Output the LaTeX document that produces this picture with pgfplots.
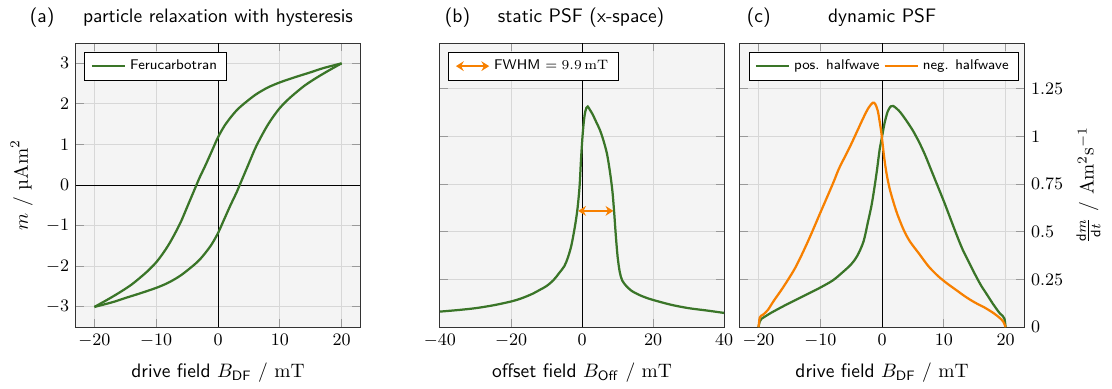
\documentclass[border=0pt]{standalone}
\usepackage{pgfplots}
\pgfplotsset{compat=1.18}
\usetikzlibrary{arrows.meta}
\renewcommand{\familydefault}{\sfdefault}
\definecolor{pgreen}{RGB}{58,117,40}
\definecolor{porange}{RGB}{247,128,0}
\definecolor{bgc}{RGB}{244,244,244}
\definecolor{gridc}{RGB}{215,215,215}
\pgfplotsset{
  myax/.style={
    scale only axis, width=146pt, height=146pt,
    anchor=north west,
    axis background/.style={fill=bgc},
    grid=major, grid style={gridc, line width=0.5pt},
    axis line style={black!80, line width=0.5pt},
    major tick style={black!40, line width=0.5pt},
    tick label style={font=\small},
    label style={font=\normalsize},
    xlabel style={yshift=-1.5pt},
    legend style={font=\fontsize{7.2}{9}\selectfont, at={(0.03,0.97)}, anchor=north west,
      draw=black, line width=0.5pt},
    legend cell align=left,
    extra x ticks={0}, extra x tick labels={},
    extra x tick style={grid style={black, line width=0.5pt}, major tick style={draw=none}},
  }
}
\begin{document}
\begin{tikzpicture}
\path[use as bounding box] (0,0) rectangle (571.2pt,-199.8pt);
\tikzset{ttl/.style={font=\normalsize, anchor=base}}
\node[ttl, anchor=base west] at (11.8pt,-11.8pt) {(a)};
\node[ttl] at (112.0pt,-11.8pt) {particle relaxation with hysteresis};
\node[ttl, anchor=base west] at (225.0pt,-11.8pt) {(b)};
\node[ttl] at (298.5pt,-11.8pt) {static PSF (x-space)};
\node[ttl, anchor=base west] at (380.1pt,-11.8pt) {(c)};
\node[ttl] at (453.1pt,-11.8pt) {dynamic PSF};

% (a)
\begin{axis}[myax, at={(39.0pt,-22.1pt)},
  xmin=-23, xmax=23, ymin=-3.5, ymax=3.5,
  xtick={-20,-10,0,10,20}, ytick={-3,-2,-1,0,1,2,3},
  extra y ticks={0}, extra y tick labels={},
  extra y tick style={grid style={black, line width=0.5pt}, major tick style={draw=none}},
  xlabel={drive field $B_{\mathsf{DF}}\ /\ \mathrm{mT}$},
  ylabel={$m\ /\ $\textrm{µ}$\mathrm{Am}^2$},
]
\addplot[pgreen, line width=1.15pt, smooth] coordinates {
(20,3.0) (17,2.88) (15,2.78) (12.5,2.66) (10,2.53) (8,2.40) (6,2.22) (4,1.98) (3,1.84) (2,1.66) (1,1.45) (0,1.18) (-1,0.84) (-2,0.5) (-3,0.18) (-3.5,0) (-4,-0.18) (-5,-0.54) (-6,-0.9) (-7,-1.2) (-8,-1.47) (-9,-1.7) (-10,-1.9) (-11,-2.06) (-12,-2.2) (-14,-2.45) (-16,-2.65) (-18,-2.83) (-20,-3.0)};
\addlegendentry{Ferucarbotran}
\addplot[pgreen, line width=1.15pt, smooth, forget plot] coordinates {
(-20,-3.0) (-17,-2.88) (-15,-2.78) (-12.5,-2.66) (-10,-2.53) (-8,-2.40) (-6,-2.22) (-4,-1.98) (-3,-1.84) (-2,-1.66) (-1,-1.45) (0,-1.18) (1,-0.84) (2,-0.5) (3,-0.18) (3.5,0) (4,0.18) (5,0.54) (6,0.9) (7,1.2) (8,1.47) (9,1.7) (10,1.9) (11,2.06) (12,2.2) (14,2.45) (16,2.65) (18,2.83) (20,3.0)};
\end{axis}

% (b)
\begin{axis}[myax, at={(226.0pt,-22.1pt)},
  xmin=-40, xmax=40, ymin=0, ymax=1.49,
  xtick={-40,-20,0,20,40}, ytick={0,0.25,0.5,0.75,1,1.25}, yticklabels={},
  xlabel={offset field $B_{\mathsf{Off}}\ /\ \mathrm{mT}$},
]
\addplot[porange, line width=1.15pt, {Stealth[length=4pt,width=5pt]}-{Stealth[length=4pt,width=5pt]}] coordinates {(-1.1,0.61) (8.8,0.61)};
\addlegendentry{FWHM $= 9.9\,\mathrm{mT}$}
\addplot[pgreen, line width=1.15pt, smooth, forget plot] coordinates {
(-40,0.082) (-35,0.090) (-30,0.100) (-25,0.115) (-20,0.135) (-17,0.152) (-14,0.175) (-12,0.195) (-10,0.216) (-8,0.248) (-6.5,0.283) (-5,0.32) (-4,0.365) (-3,0.43) (-2,0.53) (-1.3,0.62) (-0.7,0.74) (-0.3,0.88) (0.2,1.02) (0.7,1.11) (1.2,1.15) (1.6,1.157) (2.2,1.14) (3,1.115) (4,1.075) (5,1.035) (6,0.98) (7,0.91) (7.8,0.82) (8.5,0.72) (9.0,0.61) (9.5,0.48) (10,0.37) (10.6,0.29) (11.3,0.245) (12.5,0.215) (14,0.19) (16,0.17) (18,0.155) (20,0.143) (25,0.118) (30,0.100) (35,0.088) (40,0.075)};
\end{axis}

% (c)
\begin{axis}[myax, at={(380.1pt,-22.1pt)},
  xmin=-23, xmax=23, ymin=0, ymax=1.49,
  xtick={-20,-10,0,10,20}, ytick={0,0.25,0.5,0.75,1,1.25},
  yticklabel pos=right, ylabel near ticks,
  xlabel={drive field $B_{\mathsf{DF}}\ /\ \mathrm{mT}$},
  ylabel={$\frac{\mathsf{d}m}{\mathsf{d}t}\ /\ \mathrm{Am^2s^{-1}}$},
  ylabel style={font=\normalsize},
  legend columns=2,
]
\addplot[pgreen, line width=1.15pt, smooth] coordinates {
(-20,0.0) (-19.8,0.03) (-19.5,0.045) (-19,0.055) (-18,0.075) (-16,0.11) (-14,0.143) (-12,0.175) (-10,0.208) (-8,0.245) (-6.5,0.285) (-5,0.33) (-4,0.375) (-3,0.45) (-2.3,0.55) (-1.7,0.64) (-1.2,0.74) (-0.8,0.83) (-0.4,0.93) (0,1.0) (0.4,1.07) (0.9,1.13) (1.4,1.158) (1.8,1.16) (2.4,1.145) (3,1.125) (4,1.08) (5,1.03) (6,0.97) (7,0.9) (8,0.82) (9,0.74) (10,0.66) (11,0.575) (12,0.49) (13,0.41) (14,0.345) (15,0.28) (16,0.22) (17,0.17) (18,0.12) (19,0.075) (19.5,0.06) (19.8,0.045) (20,0.0)};
\addlegendentry{pos. halfwave}
\addplot[porange, line width=1.15pt, smooth] coordinates {
(-20,0.0) (-19.8,0.05) (-19.6,0.06) (-19.3,0.065) (-18.5,0.09) (-17.5,0.14) (-16,0.21) (-14,0.315) (-12,0.45) (-10,0.6) (-8,0.75) (-7,0.83) (-6,0.895) (-5,0.96) (-4,1.03) (-3,1.1) (-2.2,1.15) (-1.5,1.177) (-1.1,1.17) (-0.7,1.135) (-0.4,1.08) (-0.1,1.015) (0.3,0.9) (0.7,0.81) (1.2,0.73) (1.8,0.66) (2.5,0.59) (3.5,0.51) (4.5,0.45) (6,0.385) (7.5,0.32) (9,0.27) (10.5,0.23) (12,0.195) (13.5,0.16) (15,0.13) (16.5,0.105) (18,0.075) (19,0.05) (19.6,0.03) (20,0.0)};
\addlegendentry{neg. halfwave}
\end{axis}
\end{tikzpicture}
\end{document}
